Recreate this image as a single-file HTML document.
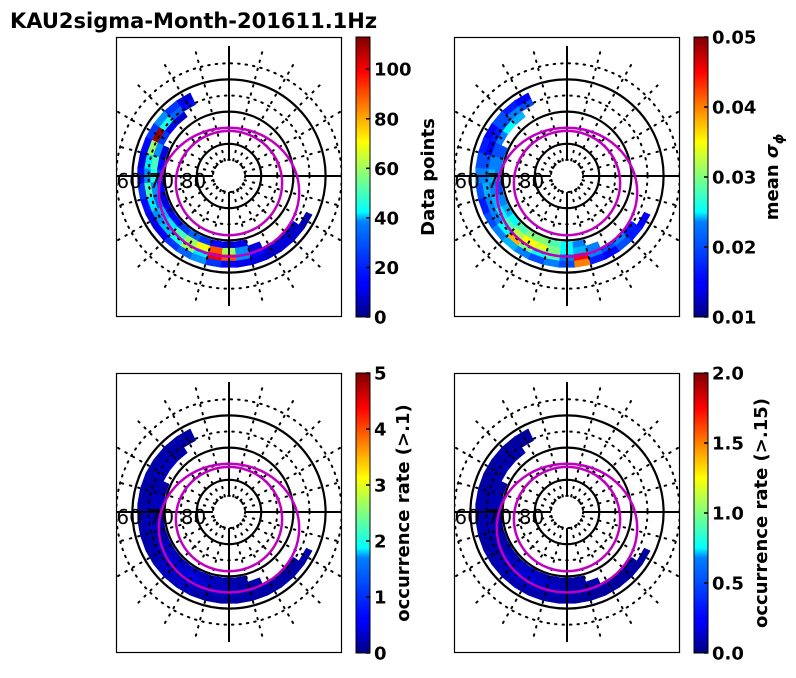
<!DOCTYPE html>
<html><head><meta charset="utf-8">
<style>
body{margin:0;background:#fff;width:796px;height:674px;overflow:hidden;font-family:"DejaVu Sans",sans-serif}
svg text{font-family:"DejaVu Sans","Liberation Sans",sans-serif}
</style></head>
<body>
<svg id="fig" width="796" height="674" viewBox="0 0 796 674" xmlns="http://www.w3.org/2000/svg">
<defs>
<linearGradient id="jet" x1="0" y1="1" x2="0" y2="0">
<stop offset="0" stop-color="#00007f"/><stop offset="0.11" stop-color="#0000ff"/>
<stop offset="0.125" stop-color="#0000ff"/><stop offset="0.34" stop-color="#0080ff"/>
<stop offset="0.375" stop-color="#00ffff"/><stop offset="0.5" stop-color="#80ff80"/>
<stop offset="0.625" stop-color="#ffff00"/><stop offset="0.875" stop-color="#ff0000"/>
<stop offset="1" stop-color="#7f0000"/>
</linearGradient>
</defs>
<text x="10" y="28" font-size="21" font-weight="bold">KAU2sigma-Month-201611.1Hz</text>
</svg>
<script>
// angle bins (deg, counterclockwise from +x) and latitude bins
const angles=[120,130,140,150,160,170,180,190,200,210,220,230,240,250,260,270,280,290,300,310,320,330];
const lats=[68.5,66.5,64.5,62.5];
const countsA=[
[null,null,null,null,10,15,20,15,10,12,15,20,25,20,15,10,12,null,null,null,null,null],
[null,8,12,20,30,50,45,30,25,35,40,50,60,70,90,60,30,10,null,null,null,null],
[15,25,45,110,60,40,30,50,40,30,35,45,60,40,100,90,30,15,10,10,8,null],
[10,20,30,20,15,10,15,20,15,10,12,20,25,30,20,15,12,10,8,10,8,5]];
const sigmaB=[
[null,null,null,null,0.018,0.02,0.02,0.018,0.02,0.022,0.025,0.028,0.03,0.03,0.028,0.025,0.02,null,null,null,null,null],
[null,0.022,0.025,0.02,0.018,0.02,0.022,0.02,0.022,0.025,0.028,0.032,0.035,0.034,0.03,0.025,0.022,0.02,null,null,null,null],
[0.018,0.02,0.018,0.016,0.015,0.018,0.02,0.022,0.02,0.02,0.025,0.038,0.03,0.025,0.028,0.02,0.045,0.02,0.018,0.02,0.016,null],
[0.015,0.016,0.018,0.015,0.016,0.018,0.02,0.018,0.016,0.018,0.02,0.022,0.02,0.018,0.02,0.018,0.04,0.016,0.015,0.018,0.016,0.015]];
const occC=[
[null,null,null,null,0.2,0.3,0.3,0.2,0.2,0.3,0.3,0.3,0.4,0.3,0.3,0.2,0.2,null,null,null,null,null],
[null,0.2,0.3,0.3,0.2,0.3,0.3,0.3,0.2,0.3,0.4,0.4,0.5,0.4,0.3,0.3,0.2,0.2,null,null,null,null],
[0.2,0.2,0.3,0.3,0.2,0.2,0.3,0.3,0.2,0.3,0.3,0.4,0.4,0.3,0.3,0.3,0.2,0.2,0.2,0.2,0.2,null],
[0.2,0.2,0.2,0.2,0.2,0.2,0.2,0.2,0.2,0.2,0.3,0.3,0.3,0.2,0.2,0.2,0.2,0.2,0.2,0.2,0.2,0.2]];
const occD=[
[null,null,null,null,0.08,0.1,0.1,0.08,0.08,0.1,0.1,0.12,0.15,0.12,0.1,0.08,0.08,null,null,null,null,null],
[null,0.08,0.1,0.1,0.08,0.1,0.12,0.1,0.08,0.1,0.15,0.15,0.18,0.15,0.12,0.1,0.08,0.08,null,null,null,null],
[0.08,0.08,0.1,0.1,0.08,0.08,0.1,0.1,0.08,0.1,0.12,0.15,0.15,0.12,0.1,0.1,0.08,0.08,0.08,0.08,0.08,null],
[0.06,0.06,0.08,0.06,0.06,0.08,0.08,0.08,0.06,0.08,0.1,0.1,0.1,0.08,0.08,0.08,0.06,0.06,0.06,0.06,0.06,0.06]];
const ticksA=[0,20,40,60,80,100];
const ticksB=["0.01","0.02","0.03","0.04","0.05"];
const ticksC=[0,1,2,3,4,5];
const ticksD=["0.0","0.5","1.0","1.5","2.0"];
// auroral oval ellipses: [center offset x, center offset y, rx, ry] in deg colatitude
const ovalInner=[0,-2.2,16.5,16.2];
const ovalOuter=[0,-5,21.8,20];

const NS="http://www.w3.org/2000/svg";
const svg=document.getElementById('fig');
function mk(tag,attrs,parent){const e=document.createElementNS(NS,tag);for(const k in attrs)e.setAttribute(k,attrs[k]);(parent||svg).appendChild(e);return e;}
function jet(t){t=Math.max(0,Math.min(1,t));
 const r=Math.max(0,Math.min(1,Math.min(4*t-1.5,-4*t+4.5)));
 const g=Math.max(0,Math.min(1,Math.min(4*t-0.5,-4*t+3.5)));
 const b=Math.max(0,Math.min(1,Math.min(4*t+0.5,-4*t+2.5)));
 return `rgb(${Math.round(r*255)},${Math.round(g*255)},${Math.round(b*255)})`;}
const S=3.22;
function rOf(lat){return (90-lat)*S;}

function panel(id,bx,by,data,vmin,vmax,ticks,tickVals,label,labelX){
 const cx=bx+113, cy=by+139, W=226, H=280;
 const g=mk('g',{},svg);
 
 
 const cp=mk('clipPath',{id:'cp'+id},svg);
 mk('rect',{x:bx,y:by,width:W,height:H},cp);
 const inner=mk('g',{'clip-path':`url(#cp${id})`},g);
 for(let i=0;i<lats.length;i++)for(let j=0;j<angles.length;j++){
  const v=data[i][j]; if(v===null)continue;
  const r0=rOf(lats[i]+1), r1=rOf(lats[i]-1);
  const a0=(angles[j]-5)*Math.PI/180, a1=(angles[j]+5)*Math.PI/180;
  const p=(r,a)=>`${(cx+r*Math.cos(a)).toFixed(1)},${(cy-r*Math.sin(a)).toFixed(1)}`;
  const col=jet((v-vmin)/(vmax-vmin));
  const c=mk('polygon',{points:`${p(r0,a0)} ${p(r1,a0)} ${p(r1,a1)} ${p(r0,a1)}`,fill:col,stroke:col,'stroke-width':0.5},inner);
  
  
 }
 [85,75,65,55].forEach(l=>{mk('circle',{cx,cy,r:rOf(l),fill:'none',stroke:'#000','stroke-width':2,'stroke-dasharray':'1.5 6','stroke-linecap':'round'},inner);});
 for(let a=0;a<360;a+=15){ if(a%90===0)continue;
  const t=a*Math.PI/180;
  mk('line',{x1:cx+rOf(85)*Math.cos(t),y1:cy-rOf(85)*Math.sin(t),x2:cx+135*Math.cos(t),y2:cy-135*Math.sin(t),stroke:'#000','stroke-width':2,'stroke-dasharray':'1.5 7','stroke-linecap':'round'},inner);}
 [80,70,60].forEach(l=>{const c=mk('circle',{cx,cy,r:rOf(l),fill:'none',stroke:'#000','stroke-width':2.2},inner);
  
  });
 mk('line',{x1:cx,y1:cy-130,x2:cx,y2:cy-rOf(85),stroke:'#000','stroke-width':2},inner);
 mk('line',{x1:cx,y1:cy+rOf(85),x2:cx,y2:cy+130,stroke:'#000','stroke-width':2},inner);
 mk('line',{x1:cx-130,y1:cy,x2:cx-rOf(85),y2:cy,stroke:'#000','stroke-width':2},inner);
 mk('line',{x1:cx+rOf(85),y1:cy,x2:cx+130,y2:cy,stroke:'#000','stroke-width':2},inner);
 [ovalInner,ovalOuter].forEach((o,k)=>{const e=mk('ellipse',{cx:cx+o[0]*S,cy:cy-o[1]*S,rx:o[2]*S,ry:o[3]*S,fill:'none',stroke:'#c000c0','stroke-width':2.5},inner);
  
  });
 [[60,'60'],[70,'70'],[80,'80']].forEach(([l,s])=>{const t=mk('text',{x:cx-rOf(l)-16,y:cy+12,'font-size':20,fill:'#000'},inner);t.textContent=s;
  
  });
 const fr=mk('rect',{x:bx+0.5,y:by+0.5,width:W-1,height:H-1,fill:'none',stroke:'#000','stroke-width':1.2},g);
 
 
 const cbx=bx+240;
 const cb=mk('rect',{x:cbx,y:by,width:14,height:H,fill:'url(#jet)',stroke:'#000','stroke-width':1},g);
 
 
 ticks.forEach((tk,k)=>{const v=tickVals[k];const y=by+H-(v-vmin)/(vmax-vmin)*H;
  mk('line',{x1:cbx+10,y1:y,x2:cbx+14,y2:y,stroke:'#000','stroke-width':1.5},g);
  const t=mk('text',{x:cbx+18,y:y+6.5,'font-size':18,'font-weight':'bold'},g);t.textContent=tk;
  
  });
 const lb=mk('text',{x:labelX,y:by+H/2,'font-size':18,'font-weight':'bold','text-anchor':'middle',transform:`rotate(-90 ${labelX} ${by+H/2})`},g);
 lb.innerHTML=label;
 
 
}
panel('data-points',116,37,countsA,0,113,ticksA,ticksA,'Data points',434);
panel('mean-sigma',454,37,sigmaB,0.01,0.05,ticksB,ticksB.map(Number),'mean <tspan font-style="italic">σ</tspan><tspan font-size="13" dy="5" font-style="italic">ϕ</tspan>',778);
panel('occurrence-01',116,373,occC,0,5,ticksC,ticksC,'occurrence rate (&gt;.1)',409);
panel('occurrence-015',454,373,occD,0,2,ticksD,ticksD.map(Number),'occurrence rate (&gt;.15)',767);
</script>
</body></html>
